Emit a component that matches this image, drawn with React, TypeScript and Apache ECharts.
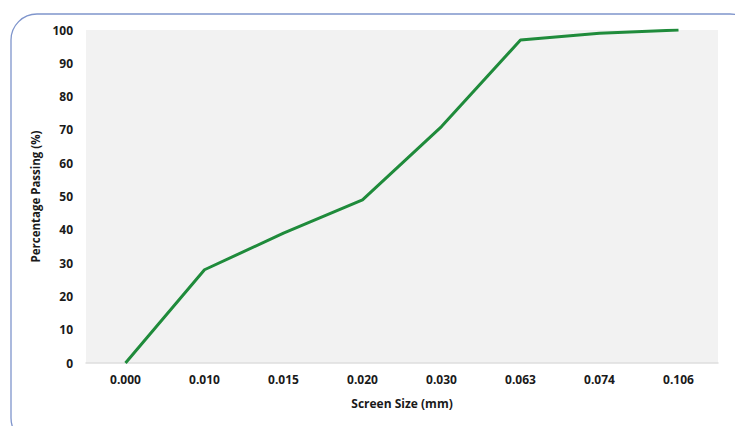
import React, { useEffect, useRef } from "react";
import * as echarts from "echarts";

const sizes = ["0.000", "0.010", "0.015", "0.020", "0.030", "0.063", "0.074", "0.106"];
const passing = [0, 28, 39, 49, 71, 97, 99, 100];
const xTitle = "Screen Size (mm)";
const yTitle = "Percentage Passing (%)";

const FONT = "'Open Sans', 'Liberation Sans', sans-serif";

export default function App() {
  const ref = useRef<HTMLDivElement>(null);
  useEffect(() => {
    if (!ref.current) return;
    const chart = echarts.init(ref.current, null, { renderer: "svg" });
    chart.setOption({
      animation: false,
      backgroundColor: "#ffffff",
      graphic: [
        {
          type: "rect",
          shape: { x: 11, y: 14, width: 745, height: 430, r: 26 },
          style: { fill: "none", stroke: "#7f95cc", lineWidth: 1.3 },
          silent: true,
        },
      ],
      grid: {
        left: 86,
        right: 17,
        top: 30,
        bottom: 63,
        show: true,
        backgroundColor: "#f2f2f2",
        borderWidth: 0,
      },
      xAxis: {
        type: "category",
        data: sizes,
        boundaryGap: true,
        name: xTitle,
        nameLocation: "middle",
        nameGap: 34,
        nameTextStyle: { fontFamily: FONT, fontWeight: "bold", fontSize: 12, color: "#1a1a1a" },
        axisLine: { show: true, lineStyle: { color: "#dedede", width: 1.5 } },
        axisTick: { show: false },
        splitLine: { show: false },
        axisLabel: { fontFamily: FONT, fontWeight: "bold", fontSize: 12, color: "#1a1a1a", margin: 10 },
      },
      yAxis: {
        type: "value",
        min: 0,
        max: 100,
        interval: 10,
        name: yTitle,
        nameLocation: "middle",
        nameGap: 40,
        nameRotate: 90,
        nameTextStyle: { fontFamily: FONT, fontWeight: "bold", fontSize: 11.5, color: "#1a1a1a" },
        axisLine: { show: false },
        axisTick: { show: false },
        splitLine: { show: false },
        axisLabel: { fontFamily: FONT, fontWeight: "bold", fontSize: 12, color: "#1a1a1a", margin: 13 },
      },
      series: [
        {
          type: "line",
          data: passing,
          symbol: "none",
          lineStyle: { color: "#1f8b3b", width: 3 },
        },
      ],
    });
    return () => chart.dispose();
  }, []);
  return (
    <div
      ref={ref}
      style={{ position: "fixed", left: 0, top: 0, width: 735, height: 426 }}
    />
  );
}
